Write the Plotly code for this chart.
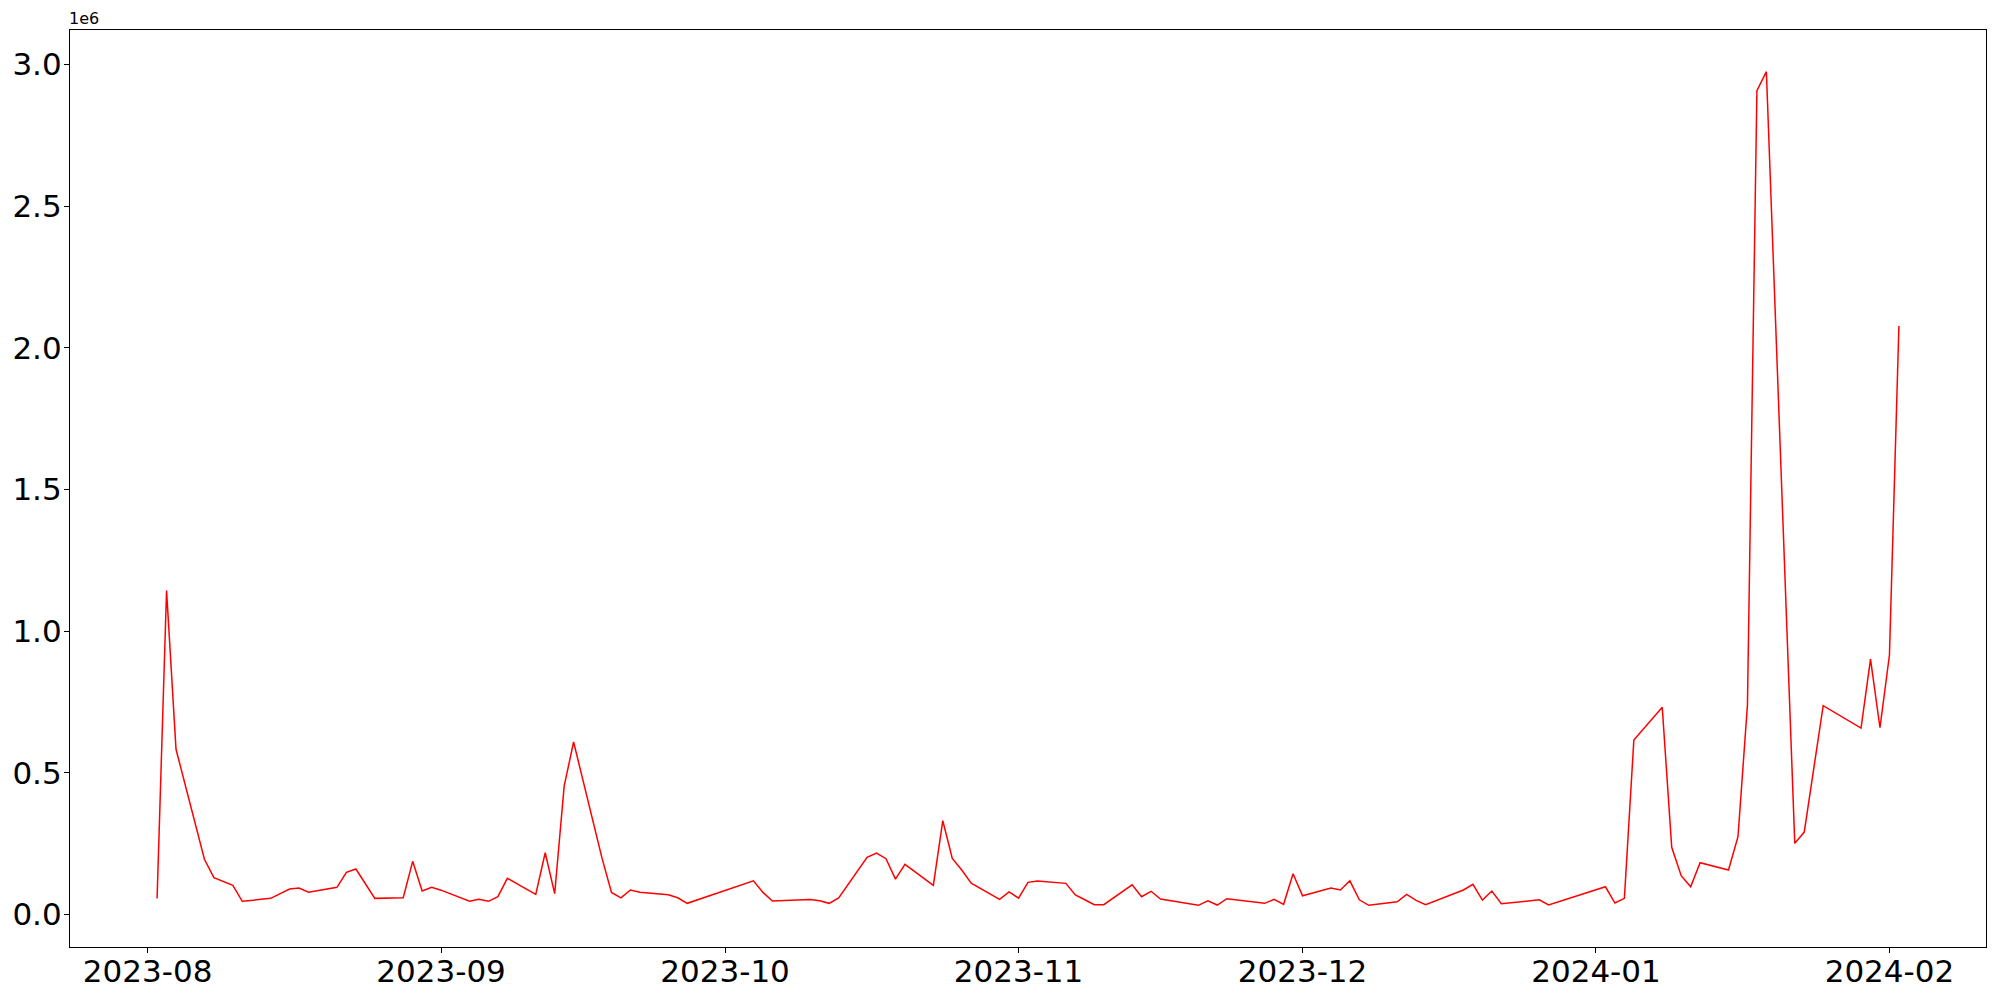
import plotly.graph_objects as go
import pandas as pd

dates = [
    "2023-08-02", "2023-08-03", "2023-08-04", "2023-08-07", "2023-08-08", "2023-08-10", "2023-08-11",
    "2023-08-14", "2023-08-16", "2023-08-17", "2023-08-18", "2023-08-21", "2023-08-22", "2023-08-23",
    "2023-08-25", "2023-08-28", "2023-08-29", "2023-08-30", "2023-08-31", "2023-09-01", "2023-09-04",
    "2023-09-05", "2023-09-06", "2023-09-07", "2023-09-08", "2023-09-11", "2023-09-12", "2023-09-13",
    "2023-09-14", "2023-09-15", "2023-09-18", "2023-09-19", "2023-09-20", "2023-09-21", "2023-09-22",
    "2023-09-25", "2023-09-26", "2023-09-27", "2023-10-04", "2023-10-05", "2023-10-06", "2023-10-09",
    "2023-10-10", "2023-10-11", "2023-10-12", "2023-10-13", "2023-10-16", "2023-10-17", "2023-10-18",
    "2023-10-19", "2023-10-20", "2023-10-23", "2023-10-24", "2023-10-25", "2023-10-26", "2023-10-27",
    "2023-10-30", "2023-10-31", "2023-11-01", "2023-11-02", "2023-11-03", "2023-11-06", "2023-11-07",
    "2023-11-08", "2023-11-09", "2023-11-10", "2023-11-13", "2023-11-14", "2023-11-15", "2023-11-16",
    "2023-11-20", "2023-11-21", "2023-11-22", "2023-11-23", "2023-11-27", "2023-11-28", "2023-11-29",
    "2023-11-30", "2023-12-01", "2023-12-04", "2023-12-05", "2023-12-06", "2023-12-07", "2023-12-08",
    "2023-12-11", "2023-12-12", "2023-12-13", "2023-12-14", "2023-12-18", "2023-12-19", "2023-12-20",
    "2023-12-21", "2023-12-22", "2023-12-26", "2023-12-27", "2024-01-02", "2024-01-03", "2024-01-04",
    "2024-01-05", "2024-01-08", "2024-01-09", "2024-01-10", "2024-01-11", "2024-01-12", "2024-01-15",
    "2024-01-16", "2024-01-17", "2024-01-18", "2024-01-19", "2024-01-22", "2024-01-23", "2024-01-25",
    "2024-01-29", "2024-01-30", "2024-01-31", "2024-02-01", "2024-02-02",
]

values = [
    57000, 1143000, 583000, 195000, 130000, 103000, 46600,
    57000, 90000, 93500, 79000, 96000, 149000, 160600,
    57000, 59000, 187700, 83000, 96000, 86000, 46600,
    53600, 46600, 63000, 127700, 71000, 218000, 73500,
    453000, 608700, 199000, 78000, 59000, 86500, 79000,
    70000, 59000, 39500, 119000, 78000, 47600, 52000,
    53000, 48700, 39500, 59000, 201800, 217000, 197000,
    125000, 177000, 103000, 331000, 198000, 157000, 111000,
    53600, 80000, 58000, 113600, 118000, 110000, 69000,
    52000, 34600, 34600, 105000, 63000, 82000, 54700,
    32500, 48700, 33500, 55700, 39500, 53600, 36000,
    144000, 66300, 93500, 86500, 119000, 52000, 32500,
    45000, 71000, 50000, 34600, 86500, 106600, 51000,
    83000, 38000, 52000, 33500, 98000, 40600, 57000,
    615700, 731000, 237000, 137000, 98000, 183000, 157000,
    274600, 739000, 2907000, 2974000, 251000, 291000, 737000,
    658000, 901500, 659000, 915700, 2077000,
]

y_ticks = [0, 500000, 1000000, 1500000, 2000000, 2500000, 3000000]
y_tick_labels = [f"{v / 1e6:.1f}" for v in y_ticks]

x = pd.to_datetime(pd.Series(dates))

# matplotlib-like 5% margins
xmin, xmax = x.min(), x.max()
xpad = (xmax - xmin) * 0.05
ymin, ymax = min(values), max(values)
ypad = (ymax - ymin) * 0.05

fig = go.Figure()
fig.add_trace(go.Scatter(
    x=x, y=values, mode="lines",
    line=dict(color="red", width=1.5),
    showlegend=False,
))

axis_common = dict(
    showline=True, linecolor="black", linewidth=1.2, mirror=True,
    ticks="outside", ticklen=5, tickwidth=1.2, tickcolor="black",
    showgrid=False, zeroline=False, automargin=False,
    tickfont=dict(family="DejaVu Sans", size=31, color="black"),
)

fig.update_xaxes(
    range=[xmin - xpad, xmax + xpad],
    tick0="2023-08-01", dtick="M1", tickformat="%Y-%m",
    ticklabelstandoff=-8,
    **axis_common,
)
fig.update_yaxes(
    range=[ymin - ypad, ymax + ypad],
    tickvals=y_ticks, ticktext=y_tick_labels,
    ticklabelstandoff=-4,
    **axis_common,
)

fig.add_annotation(
    text="1e6", xref="paper", yref="paper", x=0, y=1,
    xanchor="left", yanchor="bottom", showarrow=False,
    font=dict(family="DejaVu Sans", size=16, color="black"),
    xshift=-3, yshift=0,
)

fig.update_layout(
    width=2000, height=1000,
    margin=dict(l=70, r=14, t=30, b=53),
    paper_bgcolor="white", plot_bgcolor="white",
    font=dict(family="DejaVu Sans", color="black"),
)

fig.write_html(
    "out.html",
    config={"displayModeBar": False},
    post_script="document.body.style.margin='0';",
)
